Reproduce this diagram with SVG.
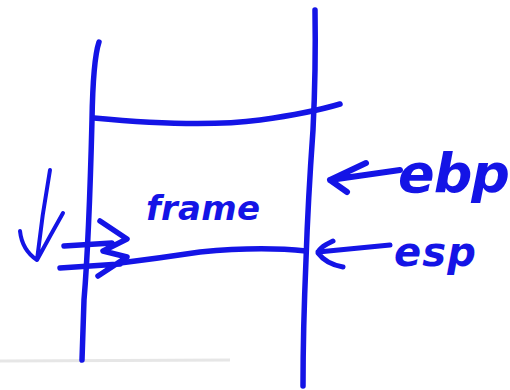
<svg xmlns="http://www.w3.org/2000/svg" width="510" height="390" viewBox="0 0 510 390">
<style>
.ink{fill:none;stroke:#1414e6;stroke-linecap:round;stroke-linejoin:round}
.t{fill:#1414e6;font-family:"DejaVu Sans",sans-serif;font-style:italic;font-weight:bold}
</style>
<rect width="510" height="390" fill="#ffffff"/>
<path d="M0 361 L230 360" stroke="#e6e6e6" stroke-width="3" fill="none"/>
<g id="stack">
<path class="ink" stroke-width="5.5" d="M99 42 Q93 60 92 120 Q89 240 84 300 L82 360"/>
<path class="ink" stroke-width="5.5" d="M315 10 Q316 70 313 130 Q308 200 306 260 Q303 330 303 386"/>
<path class="ink" stroke-width="5.5" d="M94 118 Q200 128 260 120 Q310 113 340 104"/>
<path class="ink" stroke-width="5.5" d="M120 263 Q160 258 200 252 Q260 246 306 251"/>
</g>
<g id="growth">
<path class="ink" stroke-width="4" d="M50 170 Q42 215 37 260 M20 231 Q22 250 37 260 Q50 236 63 213"/>
<path class="ink" stroke-width="5.5" d="M64 246 L112 243 M60 268 L120 264 M100 221 L127 239 L103 251 L127 257 L98 276"/>
</g>
<g id="frame">
<text class="t" x="146" y="220" font-size="34" textLength="114">frame</text>
</g>
<g id="ebp">
<path class="ink" stroke-width="6" d="M400 170 L330 180 M366 163 L330 180 L347 192"/>
<text class="t" x="398" y="192" font-size="54" textLength="112">ebp</text>
</g>
<g id="esp">
<path class="ink" stroke-width="5" d="M390 245 L318 252 M333 241 Q318 248 318 253 Q326 264 343 267"/>
<text class="t" x="394" y="266" font-size="40" textLength="82">esp</text>
</g>
</svg>
